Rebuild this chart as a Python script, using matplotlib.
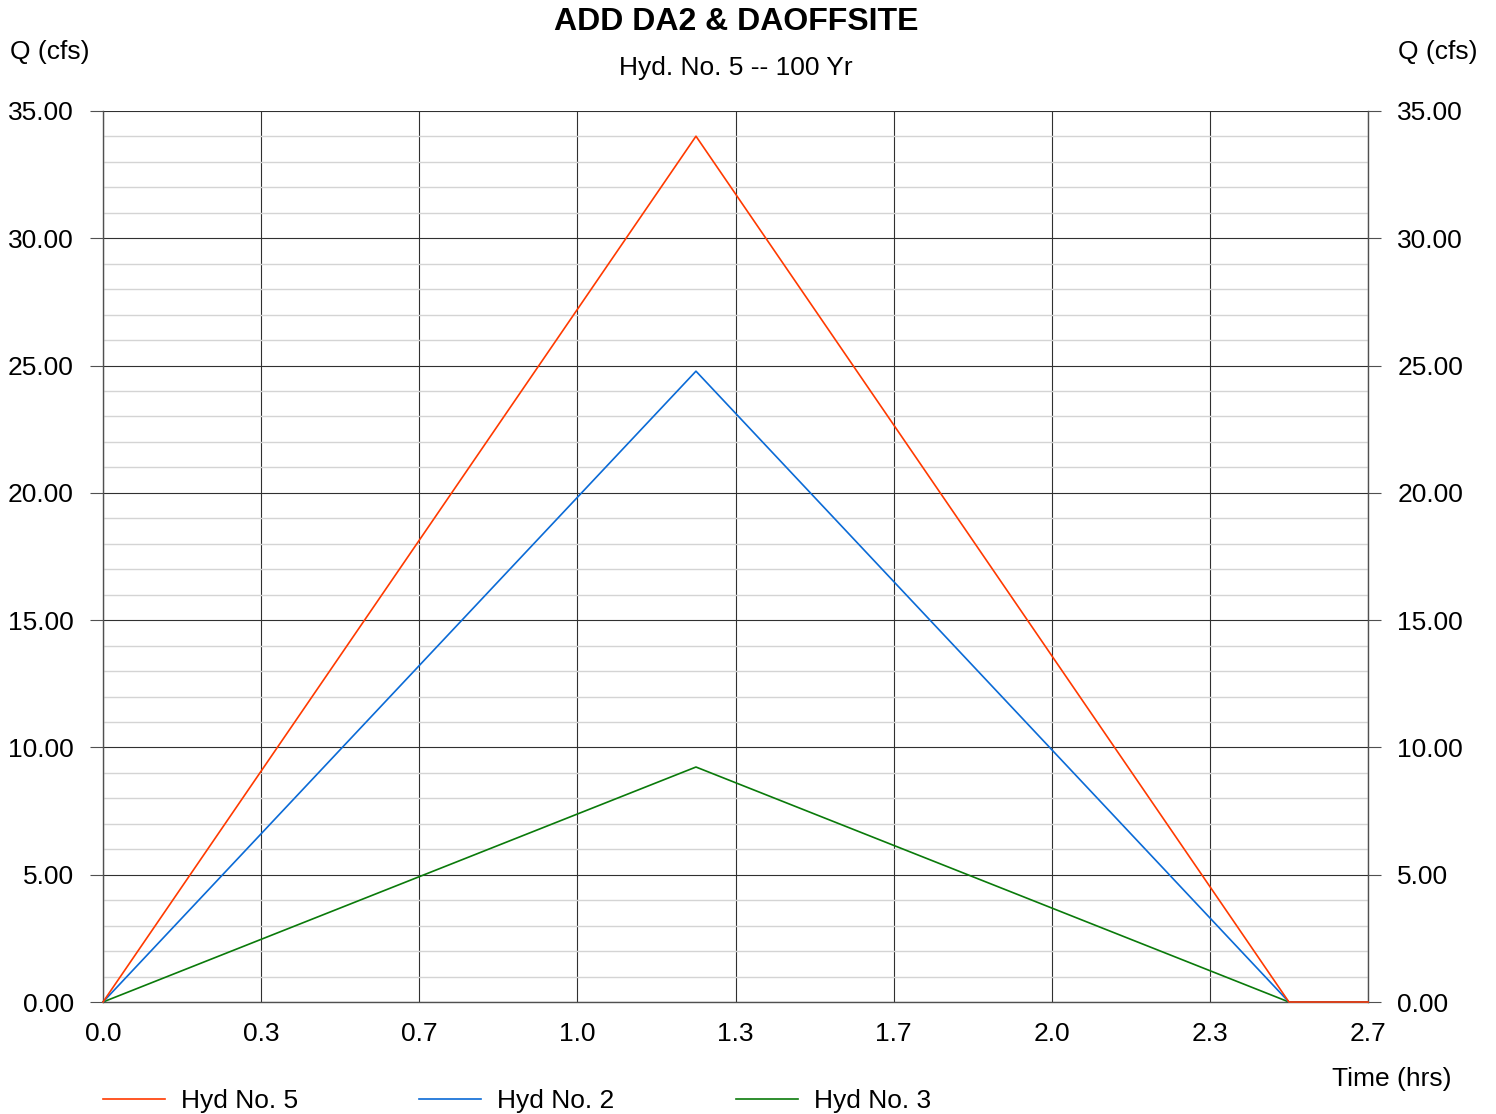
import matplotlib.pyplot as plt
import numpy as np
from matplotlib.lines import Line2D
from matplotlib.ticker import MultipleLocator, FixedLocator

plt.rcParams['font.family'] = ['Liberation Sans', 'DejaVu Sans']

# hydrograph ordinates (hrs, cfs)
time_hrs = [0.0, 1.25, 2.50, 2.667]
hyd5 = [0.0, 34.01, 0.0, 0.0]
hyd2 = [0.0, 24.78, 0.0, 0.0]
hyd3 = [0.0, 9.23, 0.0, 0.0]

series_names = ['Hyd No. 5', 'Hyd No. 2', 'Hyd No. 3']
series_colors = ['#ff3a00', '#0a6ad6', '#0a7a0a']

x_ticks = [0.0, 1/3, 2/3, 1.0, 4/3, 5/3, 2.0, 7/3, 8/3]
x_labels = ['0.0', '0.3', '0.7', '1.0', '1.3', '1.7', '2.0', '2.3', '2.7']
y_max = 35.0

W, H = 1496, 1114
fig = plt.figure(figsize=(W/100, H/100), dpi=100)

def fx(px):
    return px/W

def fy(py):
    return 1 - py/H

ax = fig.add_axes([fx(103), fy(1002), fx(1368) - fx(103), fy(111) - fy(1002)])

fs = 19

ax.set_xlim(0, 8/3)
ax.set_ylim(0, y_max)

ax.xaxis.set_major_locator(FixedLocator(x_ticks))
ax.set_xticklabels(x_labels)
ax.yaxis.set_major_locator(MultipleLocator(5))
ax.yaxis.set_minor_locator(MultipleLocator(1))
ax.yaxis.set_major_formatter(plt.FuncFormatter(lambda v, p: '%.2f' % v))

ax.grid(which='minor', axis='y', color='#d4d4d4', lw=1.0)
ax.grid(which='major', axis='both', color='#303030', lw=0.8)
ax.set_axisbelow(True)

for s in ax.spines.values():
    s.set_color('#505050')
    s.set_linewidth(1.0)
ax.spines['top'].set_visible(False)

ax.tick_params(axis='y', which='major', direction='out', length=9.5, width=0.8,
               color='#505050', left=True, right=True, labelleft=True,
               labelright=True, labelsize=fs, pad=11.5)
ax.tick_params(axis='y', which='minor', length=0)
ax.tick_params(axis='x', which='major', length=0, labelsize=fs, pad=14.5)

for q, name, c in zip([hyd5, hyd2, hyd3][::-1], series_names[::-1], series_colors[::-1]):
    ax.plot(time_hrs, q, color=c, lw=1.2, label=name, clip_on=False, zorder=3)

# titles and axis captions
fig.text(fx(736), fy(22.5), 'ADD DA2 & DAOFFSITE', ha='center', va='center',
         fontsize=23, fontweight='bold')
fig.text(fx(736), fy(68), 'Hyd. No. 5 -- 100 Yr', ha='center', va='center', fontsize=fs)
fig.text(fx(10), fy(52.5), 'Q (cfs)', ha='left', va='center', fontsize=fs)
fig.text(fx(1478), fy(52.5), 'Q (cfs)', ha='right', va='center', fontsize=fs)
fig.text(fx(1452), fy(1079), 'Time (hrs)', ha='right', va='center', fontsize=fs)

# legend row under the axis
leg_x = [103, 419, 736]
for x0, name, c in zip(leg_x, series_names, series_colors):
    fig.add_artist(Line2D([fx(x0), fx(x0 + 62)], [fy(1099), fy(1099)], color=c, lw=1.2))
    fig.text(fx(x0 + 78), fy(1101), name, ha='left', va='center', fontsize=fs)

fig.savefig('out.png', dpi=100)
